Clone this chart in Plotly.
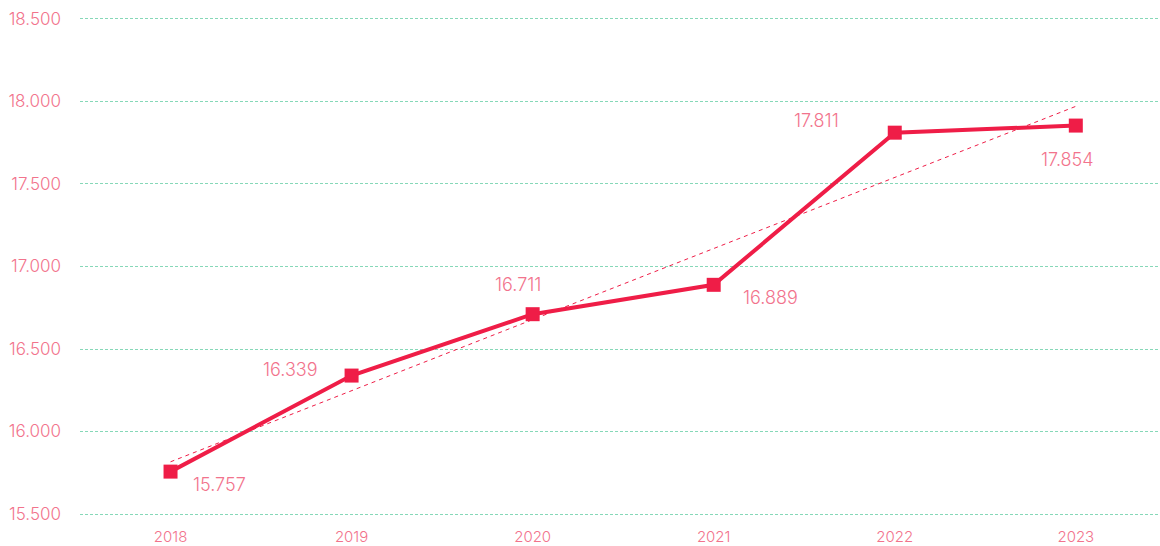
import numpy as np
import plotly.graph_objects as go

years = ["2018", "2019", "2020", "2021", "2022", "2023"]
values = [15757, 16339, 16711, 16889, 17811, 17854]
y_ticks = [15500, 16000, 16500, 17000, 17500, 18000, 18500]

# label offsets (px) relative to each marker
label_dx = [49, -61, -15, 57, -78, -8]
label_dy = [-13, 6, 30, -13, 12, -34]

RED = "#EF1D47"
PINK = "#F2738C"
GRID = "#86D8B8"
FONT = "Inter, Lato, sans-serif"

def fmt(v):
    return f"{v:,}".replace(",", ".")

# linear trend fitted on the values
xi = np.arange(len(values))
slope, icpt = np.polyfit(xi, values, 1)
trend = [float(icpt), float(icpt + slope * xi[-1])]

fig = go.Figure()
fig.add_trace(go.Scatter(
    x = years, y = values, mode = "lines+markers",
    line = dict(color = RED, width = 4),
    marker = dict(symbol = "square", size = 14, color = RED),
    showlegend = False))
fig.add_trace(go.Scatter(
    x = [years[0], years[-1]], y = trend, mode = "lines",
    line = dict(color = RED, width = 1, dash = "4px,4px"),
    hoverinfo = "skip", showlegend = False))

# category index as x: year strings would be read as numbers
for i, (v, dx, dy) in enumerate(zip(values, label_dx, label_dy)):
    fig.add_annotation(x = i, y = v, xref = "x", yref = "y", text = fmt(v), showarrow = False,
                       xshift = dx, yshift = dy,
                       font = dict(family = FONT, size = 18, color = PINK, weight = 300))

fig.update_layout(
    width = 1160, height = 546,
    template = "none",
    plot_bgcolor = "white", paper_bgcolor = "white",
    margin = dict(l = 80, r = 0, t = 17, b = 30),
    font = dict(family = FONT, color = PINK),
    xaxis = dict(type = "category", categoryorder = "array", categoryarray = years,
                 range = [-0.5, 5.465], showgrid = False, showline = False, zeroline = False,
                 ticks = "", ticklabelstandoff = 10,
                 tickfont = dict(size = 15, color = PINK, weight = 300)),
    yaxis = dict(range = [15488, 18512], tickvals = y_ticks,
                 ticktext = [fmt(t) for t in y_ticks],
                 showgrid = True, gridcolor = GRID, griddash = "3px,2px", gridwidth = 1,
                 zeroline = False, showline = False, ticks = "", ticklabelstandoff = 18,
                 tickfont = dict(size = 17, color = PINK, weight = 300)))

fig.write_html("out.html", config = {"displayModeBar": False},
               post_script = "document.body.style.margin = '0';")
